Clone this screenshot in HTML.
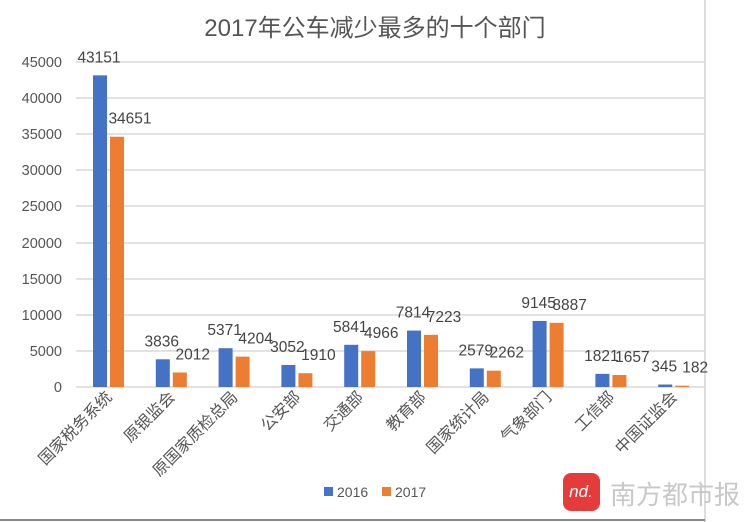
<!DOCTYPE html>
<html><head><meta charset="utf-8"><style>
body{margin:0;background:#fff;}
</style></head><body>
<svg width="750" height="522" xmlns="http://www.w3.org/2000/svg" style="display:block;font-family:'Liberation Sans','Noto Sans CJK SC',sans-serif">
<rect width="750" height="522" fill="#fff"/>
<line x1="705" y1="0" x2="705" y2="522" stroke="#bbb" stroke-width="1"/>
<line x1="0" y1="520" x2="705" y2="520" stroke="#888" stroke-width="2"/>
<text x="375" y="36" text-anchor="middle" font-size="24" fill="#555">2017年公车减少最多的十个部门</text>
<g stroke="#d9d9d9" stroke-width="1.5">
<line x1="76" x2="705" y1="62" y2="62"/><line x1="76" x2="705" y1="98" y2="98"/><line x1="76" x2="705" y1="134" y2="134"/><line x1="76" x2="705" y1="170" y2="170"/><line x1="76" x2="705" y1="206" y2="206"/><line x1="76" x2="705" y1="243" y2="243"/><line x1="76" x2="705" y1="279" y2="279"/><line x1="76" x2="705" y1="315" y2="315"/><line x1="76" x2="705" y1="351" y2="351"/><line x1="76" x2="705" y1="387" y2="387"/>
</g>
<g font-size="14.5" fill="#555" text-anchor="end">
<text x="62" y="67">45000</text><text x="62" y="103">40000</text><text x="62" y="139">35000</text><text x="62" y="175">30000</text><text x="62" y="211">25000</text><text x="62" y="248">20000</text><text x="62" y="284">15000</text><text x="62" y="320">10000</text><text x="62" y="356">5000</text><text x="62" y="392">0</text>
</g>
<g id="bars"></g>
<g font-size="16" fill="#555" text-anchor="end" id="cats"></g>
<g font-size="15.5" fill="#444" text-anchor="middle" id="vals"></g>
<rect x="324" y="487" width="9" height="9" fill="#4472c4"/><text x="337" y="497" font-size="14" fill="#555">2016</text>
<rect x="382" y="487" width="9" height="9" fill="#ed7d31"/><text x="395" y="497" font-size="14" fill="#555">2017</text>
<rect x="563" y="473" width="37" height="38" rx="8" fill="#e63b3b"/>
<text x="581" y="497" font-size="17" font-style="italic" fill="#fff" text-anchor="middle">nd.</text>
<text x="610" y="504" font-size="26" fill="#c8c8c8">南方都市报</text>
<script>
var d=[["国家税务系统",43151,34651],["原银监会",3836,2012],["原国家质检总局",5371,4204],["公安部",3052,1910],["交通部",5841,4966],["教育部",7814,7223],["国家统计局",2579,2262],["气象部门",9145,8887],["工信部",1821,1657],["中国证监会",345,182]];
var ns="http://www.w3.org/2000/svg";
function el(t,a,p,txt){var e=document.createElementNS(ns,t);for(var k in a)e.setAttribute(k,a[k]);if(txt!=null)e.textContent=txt;document.getElementById(p).appendChild(e);}
var s=325/45000;
d.forEach(function(r,i){
 var x=93+i*62.8;
 var h1=r[1]*s,h2=r[2]*s;
 el("rect",{x:x,y:387-h1,width:14,height:h1,fill:"#4472c4"},"bars");
 el("rect",{x:x+17,y:387-h2,width:14,height:h2,fill:"#ed7d31"},"bars");
 el("text",{x:x+6,y:387-h1-13},"vals",r[1]);
 el("text",{x:x+37,y:387-h2-13},"vals",r[2]);
 var cx=x+20,cy=398;
 el("text",{x:cx,y:cy,transform:"rotate(-45 "+cx+" "+cy+")"},"cats",r[0]);
});
</script>
</svg>
</body></html>
